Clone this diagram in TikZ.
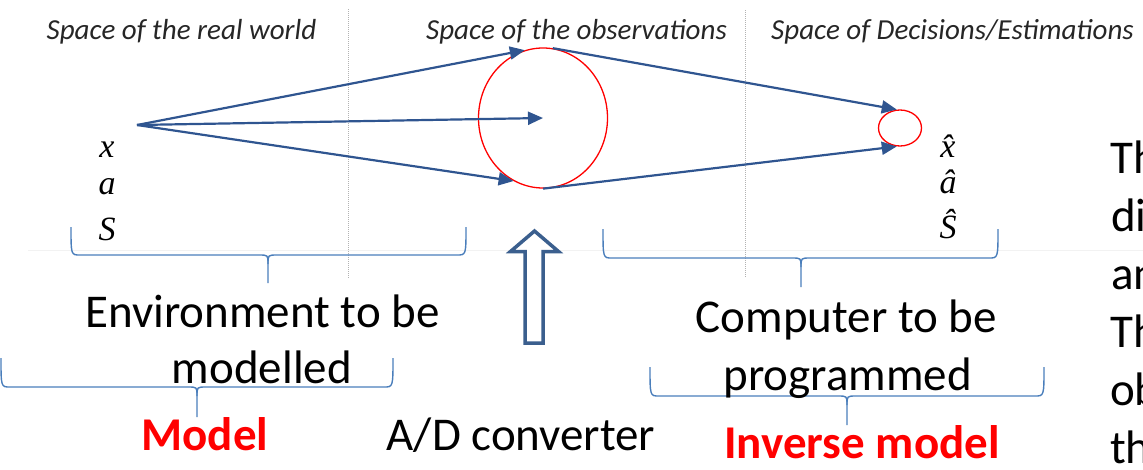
\documentclass[tikz,border=0pt]{standalone}
\usepackage{fontspec}
\setmainfont{Carlito}
\newfontfamily\tms{Liberation Serif}
\usetikzlibrary{arrows.meta,shapes.geometric}
\definecolor{arrowblue}{HTML}{2F5590}
\definecolor{braceblue}{HTML}{4A7EBB}
\definecolor{blockblue}{HTML}{3B5F8E}
\newcommand{\hbrace}[6]{%
  \draw[brace] (#1,#4) .. controls (#1,#5) .. (#1+9,#5) -- (#3-9,#5) .. controls (#3,#5) .. (#3,#5+9) -- (#3,#6);
  \draw[brace] (#3,#5+9) .. controls (#3,#5) .. (#3+9,#5) -- (#2-9,#5) .. controls (#2,#5) .. (#2,#4);}
\begin{document}
\begin{tikzpicture}[x=1pt,y=-1pt,
  conn/.style={draw=arrowblue,line width=2.2pt},
  arr/.style={conn,-{Triangle[length=15pt,width=13pt]}},
  brace/.style={draw=braceblue,line width=1.4pt,line join=round},
  big/.style={font=\fontsize{47}{56}\selectfont,anchor=base,inner sep=0},
  bigred/.style={font=\fontsize{47}{56}\selectfont\bfseries,text=red,anchor=base,inner sep=0},
  cut/.style={font=\fontsize{47}{56}\selectfont,anchor=base west,inner sep=0},
  spacelbl/.style={font=\fontsize{29}{34}\selectfont\itshape,text=black!85,anchor=base,inner sep=0},
  var/.style={font=\fontsize{34}{38}\selectfont\tms\itshape,anchor=base,inner sep=0},
  sep/.style={draw=gray!60,line width=1pt,densely dotted},
  region/.style={ellipse,draw=red,line width=1.3pt,inner sep=0}]
\useasboundingbox (0,0) rectangle (1143,469);
\clip (0,0) rectangle (1143,469);
% faint guide line and separators
\draw[gray!10,line width=1pt] (28,250) -- (1143,250);
\draw[sep] (348,9) -- (348,278);
\draw[sep] (745,10) -- (745,278);
% space labels
\node[spacelbl] (s1) at (181.5,39) {Space of the real world};
\node[spacelbl] (s2) at (576.5,39) {Space of the observations};
\node[spacelbl] (s3) at (952.5,39) {Space of Decisions/Estimations};
% variables
\node[var] (vx) at (107,157) {x};
\node[var] (va) at (107,194) {a};
\node[var] (vS) at (107,240) {S};
\node[var] (hx) at (948,157) {x̂};
\node[var] (ha) at (948,193) {â};
\node[var] (hS) at (948,238) {Ŝ};
% regions
\coordinate (o) at (137,125);
\node[region,minimum width=129pt,minimum height=140pt] (obs) at (543,118) {};
\node[region,minimum width=43pt,minimum height=36pt] (est) at (900,128) {};
% connectors
\draw[arr] (o) -- (obs.center);
\draw[arr] (o) -- (obs.105);
\draw[arr] (o) -- (obs.245);
\draw[arr] (obs.82) -- (est.100);
\draw[arr] (obs.south) -- (est.260);
% hollow block arrow
\draw[draw=blockblue,fill=white,line width=3.5pt,line join=miter]
  (534.5,231) -- (558.5,251.5) -- (543,251.5) -- (543,343) -- (525,343) -- (525,251.5) -- (510.5,251.5) -- cycle;
% braces
\hbrace{71}{466}{268}{227}{255}{283}
\hbrace{603}{998}{801}{229}{258}{287}
\hbrace{1}{393}{197}{358}{387}{417}
\hbrace{650}{1044}{847}{367}{396}{425}
% texts
\node[big] (env1) at (262.5,327) {Environment to be};
\node[big] (env2) at (262,383) {modelled};
\node[bigred] (model) at (205,450) {Model};
\node[big] (ad) at (521,450) {A/D converter};
\node[big] (comp1) at (846.5,332) {Computer to be};
\node[big] (comp2) at (847.5,390) {programmed};
\node[bigred] (inv) at (862,458) {Inverse model};
% text cut by the right edge, as in the reference
\node[cut] (r1) at (1110,173) {Th};
\node[cut] (r2) at (1111,231) {di};
\node[cut] (r3) at (1111,289) {an};
\node[cut] (r4) at (1110,347) {Th};
\node[cut] (r5) at (1110,405) {ob};
\node[cut] (r6) at (1110,463) {th};
\end{tikzpicture}
\end{document}
